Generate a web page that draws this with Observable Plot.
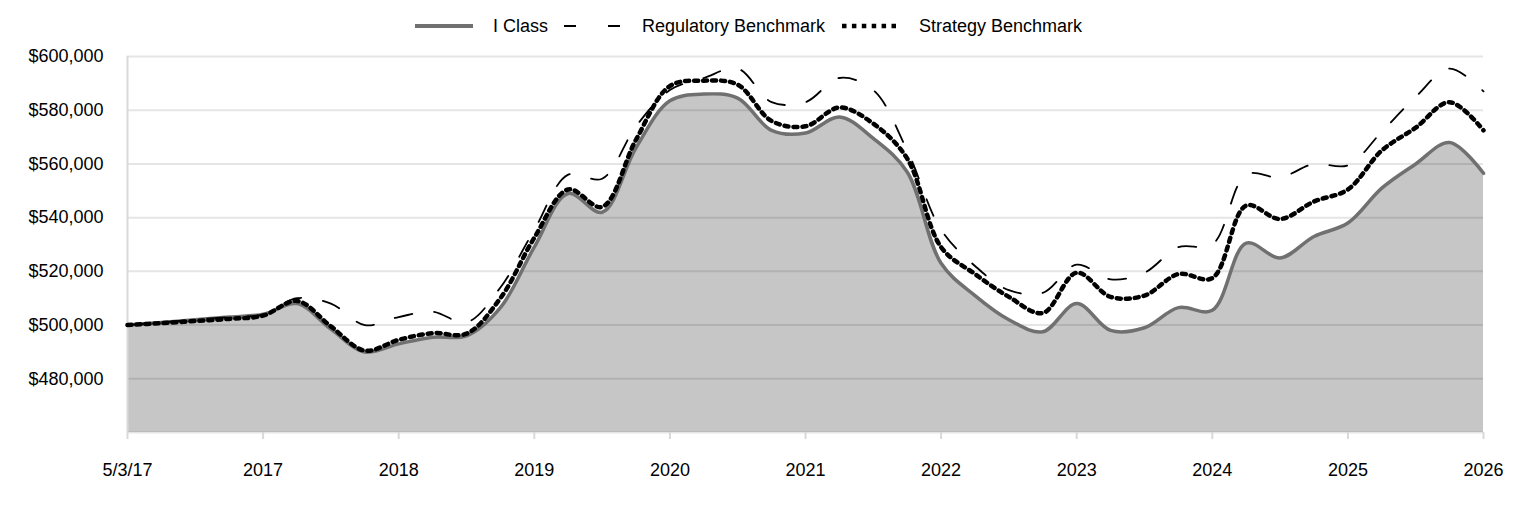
<!DOCTYPE html>
<html>
<head>
<meta charset="utf-8">
<script src="https://cdn.jsdelivr.net/npm/d3@7"></script>
<script src="https://cdn.jsdelivr.net/npm/@observablehq/plot@0.6"></script>
<style>
  html, body { margin: 0; padding: 0; background: #fff; }
  #wrap { width: 1524px; height: 516px; position: relative; font-family: "Liberation Sans", Arial, sans-serif; }
  #legend { display: block; }
  #chart svg { display: block; }
</style>
</head>
<body>
<div id="wrap">
  <svg id="legend" width="1524" height="40"></svg>
  <div id="chart"></div>
</div>
<script>
// Growth of a $500,000 investment, quarterly points (index 0 = 5/3/17)
const tickLabels = ["5/3/17", "2017", "2018", "2019", "2020", "2021", "2022", "2023", "2024", "2025", "2026"];
const tickIndex = [0, 4, 8, 12, 16, 20, 24, 28, 32, 36, 40];
const yTicks = [480000, 500000, 520000, 540000, 560000, 580000, 600000];

const iClass = [500000, 501000, 502000, 503000, 504000, 508000, 498500, 490000, 493000, 495500,
  496000, 506500, 529000, 549000, 542000, 566000, 583500, 586000, 584500, 572500,
  571500, 577500, 569500, 557000, 523000, 511000, 502000, 497500, 508000, 498000,
  499000, 506500, 505500, 530500, 525000, 533000, 538000, 551000, 560000, 568000, 556500];

const regulatory = [500000, 501000, 502000, 503000, 504000, 510000, 508000, 500000, 503000, 505000,
  501000, 514000, 535500, 556000, 554500, 574000, 587500, 592000, 595500, 583000,
  583000, 592000, 587500, 565000, 535500, 522000, 513000, 512000, 522500, 517000,
  519500, 529000, 530000, 556000, 555000, 560000, 559500, 572000, 585000, 595500, 587000];

const strategy = [500000, 500700, 501500, 502300, 503500, 509000, 499500, 490500, 494500, 497000,
  496800, 510000, 532500, 550500, 544000, 569000, 589000, 591000, 589500, 576000,
  574000, 581000, 575000, 562000, 529000, 519000, 510500, 504500, 519500, 510500,
  511000, 519000, 517500, 544500, 539500, 546000, 550500, 565000, 573500, 583000, 572500];

const seriesNames = ["I Class", "Regulatory Benchmark", "Strategy Benchmark"];

const rows = (vals) => vals.map((v, i) => ({i, v}));
const dI = rows(iClass), dR = rows(regulatory), dS = rows(strategy);

const yMin = 460000, yMax = 600000;
const curve = "catmull-rom";
const money = d3.format(",");

const chart = Plot.plot({
  width: 1524,
  height: 476,
  marginLeft: 127,
  marginRight: 41,
  marginTop: 16,
  marginBottom: 84,
  style: {fontFamily: "'Liberation Sans', Arial, sans-serif", fontSize: "18px", color: "#000", background: "#fff"},
  x: {domain: [0, 40], label: null},
  y: {domain: [yMin, yMax], label: null},
  marks: [
    Plot.areaY(dI, {x: "i", y1: yMin, y2: "v", curve, fill: "#c6c6c6"}),
    Plot.gridY([yMin, ...yTicks], {stroke: "#000", strokeOpacity: 0.1, strokeWidth: 2}),
    Plot.ruleX([0], {stroke: "#d9d9d9", strokeWidth: 2}),
    Plot.axisY({ticks: yTicks, label: null, tickSize: 0, tickPadding: 24, tickFormat: d => "$" + money(d), fontSize: 18, fill: "#000"}),
    Plot.axisX({ticks: tickIndex, label: null, tickSize: 7, tickPadding: 24, stroke: "#d9d9d9", strokeWidth: 2, strokeOpacity: 1,
      tickFormat: d => tickLabels[tickIndex.indexOf(d)], fontSize: 18, fill: "#000"}),
    Plot.line(dI, {x: "i", y: "v", curve, stroke: "#707070", strokeWidth: 3.5}),
    Plot.line(dR, {x: "i", y: "v", curve, stroke: "#000", strokeWidth: 1.8, strokeDasharray: "18,22"}),
    Plot.line(dS, {x: "i", y: "v", curve, stroke: "#000", strokeWidth: 4.5, strokeDasharray: "4,5"})
  ]
});
document.getElementById("chart").appendChild(chart);

// Legend row above the plot
const lg = d3.select("#legend");
const items = [
  {name: seriesNames[0], x0: 415, x1: 473, tx: 493, stroke: "#707070", w: 4, dash: null},
  {name: seriesNames[1], x0: 564, x1: 620, tx: 642, stroke: "#000", w: 1.8, dash: "12,32"},
  {name: seriesNames[2], x0: 842, x1: 896, tx: 919, stroke: "#000", w: 4.5, dash: "4.5,5.4"}
];
for (const it of items) {
  const ln = lg.append("line").attr("x1", it.x0).attr("x2", it.x1).attr("y1", 26).attr("y2", 26)
    .attr("stroke", it.stroke).attr("stroke-width", it.w);
  if (it.dash) ln.attr("stroke-dasharray", it.dash);
  lg.append("text").attr("x", it.tx).attr("y", 26).attr("dy", "0.35em")
    .attr("font-family", "'Liberation Sans', Arial, sans-serif").attr("font-size", 18).attr("fill", "#000")
    .text(it.name);
}
</script>
</body>
</html>
